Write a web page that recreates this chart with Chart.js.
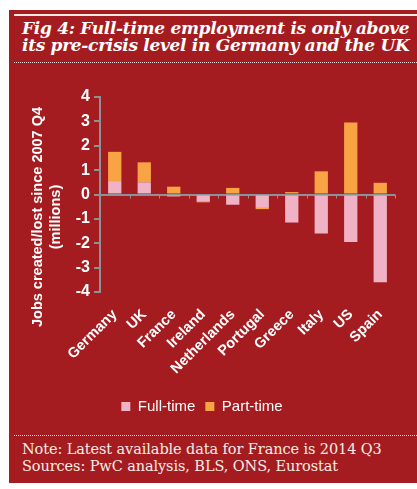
<!DOCTYPE html>
<html>
<head>
<meta charset="utf-8">
<script src="https://cdn.jsdelivr.net/npm/chart.js@4"></script>
<style>
  body{margin:0;background:#fff;width:417px;height:489px;overflow:hidden;position:relative;font-family:"Liberation Sans",Arial,sans-serif}
  #panel{position:absolute;left:9px;top:10px;width:408px;height:473px;background:#a51c20}
  #topline{position:absolute;left:14px;top:14px;width:403px;height:2px;background:#f3e9e4}
  #title{position:absolute;left:22px;top:20px;width:395px;color:#fff;font-family:"DejaVu Serif",Georgia,serif;font-style:italic;font-weight:bold;font-size:17px;line-height:17px;letter-spacing:-0.3px}
  .dots{position:absolute;left:14px;width:403px;border-top:1px dotted #f0d8d8}
  #ytitle{position:absolute;left:46px;top:217px;width:300px;transform:translate(-50%,-50%) rotate(-90deg);text-align:center;color:#fff;font-weight:bold;font-size:14.5px;line-height:18px}
  #chartbox{position:absolute;left:9px;top:70px;width:408px;height:355px}
  #note{position:absolute;left:22px;top:441px;color:#f6ece6;font-family:"DejaVu Serif",Georgia,serif;font-size:14.5px;line-height:17px;letter-spacing:-0.1px}
</style>
</head>
<body>
<div id="panel"></div>
<div id="topline"></div>
<div id="title">Fig 4: Full-time employment is only above<br>its pre-crisis level in Germany and the UK</div>
<div class="dots" style="top:62px"></div>
<div id="chartbox"><canvas id="c"></canvas></div>
<div id="ytitle">Jobs created/lost since 2007 Q4<br>(millions)</div>
<div class="dots" style="top:435px"></div>
<div id="note">Note: Latest available data for France is 2014 Q3<br>Sources: PwC analysis, BLS, ONS, Eurostat</div>
<script>
// Jobs created/lost since 2007 Q4, millions
const countries = ['Germany','UK','France','Ireland','Netherlands','Portugal','Greece','Italy','US','Spain'];
const fullTime = [0.55, 0.5, -0.08, -0.3, -0.42, -0.55, -1.15, -1.6, -1.95, -3.6];
const partTime = [1.2, 0.82, 0.32, -0.02, 0.27, -0.05, 0.1, 0.95, 2.95, 0.48];
const yTicks = [4, 3, 2, 1, 0, -1, -2, -3, -4];

const white = '#ffffff', axisGrey = '#8c9396';

// small tick marks under the zero line, between categories
const catTicks = {
  id: 'catTicks',
  afterDatasetsDraw(chart) {
    const x = chart.scales.x, y = chart.scales.y, ctx = chart.ctx;
    const y0 = y.getPixelForValue(0);
    ctx.save();
    ctx.strokeStyle = axisGrey; ctx.lineWidth = 1;
    for (let i = 0; i <= countries.length; i++) {
      const px = Math.round(x.getPixelForValue(i - 0.5)) + 0.5;
      ctx.beginPath(); ctx.moveTo(px, y0); ctx.lineTo(px, y0 + 4); ctx.stroke();
    }
    ctx.restore();
  }
};

new Chart(document.getElementById('c'), {
  type: 'bar',
  data: {
    labels: countries,
    datasets: [
      {label: 'Full-time', data: fullTime, backgroundColor: '#f0b3c6', barPercentage: 0.45, categoryPercentage: 1},
      {label: 'Part-time', data: partTime, backgroundColor: '#f9a444', barPercentage: 0.45, categoryPercentage: 1}
    ]
  },
  options: {
    responsive: true, maintainAspectRatio: false, animation: false,
    layout: {padding: {top: 27, right: 22, bottom: 1, left: 0}},
    plugins: {
      tooltip: {enabled: false},
      legend: {position: 'bottom', labels: {color: white, boxWidth: 9, boxHeight: 9, padding: 10, font: {size: 15, family: 'Liberation Sans'}}}
    },
    scales: {
      x: {
        stacked: true,
        afterFit: s => { s.height = 97 },
        border: {display: false},
        grid: {display: false},
        ticks: {color: white, autoSkip: false, minRotation: 45, maxRotation: 45, padding: 6, font: {size: 14.5, weight: 'bold', family: 'Liberation Sans'}}
      },
      y: {
        stacked: true, min: -4, max: 4,
        afterFit: s => { s.width = 91 },
        afterBuildTicks: s => { s.ticks = yTicks.map(v => ({value: v})) },
        border: {display: true, color: axisGrey, width: 2},
        grid: {color: c => c.tick && c.tick.value === 0 ? axisGrey : 'transparent', lineWidth: 2, tickColor: axisGrey, tickLength: 6, drawTicks: true},
        ticks: {color: white, padding: 4, font: {size: 16, weight: 'bold', family: 'Liberation Sans'}}
      }
    }
  },
  plugins: [catTicks]
});
</script>
</body>
</html>
